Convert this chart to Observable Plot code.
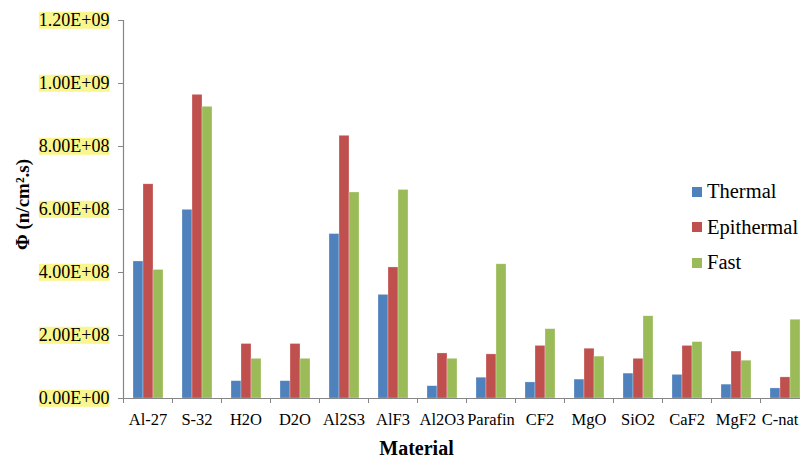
<!DOCTYPE html>
<html>
<head>
<meta charset="utf-8">
<script src="https://cdn.jsdelivr.net/npm/d3@7"></script>
<script src="https://cdn.jsdelivr.net/npm/@observablehq/plot@0.6"></script>
<style>
  html, body { margin: 0; padding: 0; background: white; overflow: hidden; }
  #wrap { position: relative; width: 800px; height: 461px; overflow: hidden; }
  #wrap svg text { font-family: "Liberation Serif", "Times New Roman", "DejaVu Serif", serif !important; font-variant: normal !important; }
  #legend { position: absolute; left: 692px; top: 174px; font-family: "Liberation Serif", "Times New Roman", "DejaVu Serif", serif; font-size: 20.5px; color: #000; }
  #legend .row { display: flex; align-items: center; height: 35.5px; white-space: nowrap; }
  #legend .sw { width: 10px; height: 10px; margin-right: 5px; }
</style>
</head>
<body>
<div id="wrap"></div>
<script>
const categories = ["Al-27","S-32","H2O","D2O","Al2S3","AlF3","Al2O3","Parafin","CF2","MgO","SiO2","CaF2","MgF2","C-nat"];
const series = ["Thermal","Epithermal","Fast"];
const thermal    = [4.35e8, 5.99e8, 0.55e8, 0.55e8, 5.22e8, 3.29e8, 0.39e8, 0.66e8, 0.51e8, 0.60e8, 0.79e8, 0.75e8, 0.44e8, 0.32e8];
const epithermal = [6.80e8, 9.64e8, 1.73e8, 1.73e8, 8.34e8, 4.16e8, 1.43e8, 1.40e8, 1.67e8, 1.58e8, 1.26e8, 1.67e8, 1.49e8, 0.67e8];
const fast       = [4.08e8, 9.26e8, 1.26e8, 1.26e8, 6.54e8, 6.62e8, 1.26e8, 4.26e8, 2.20e8, 1.33e8, 2.61e8, 1.79e8, 1.20e8, 2.50e8];
const yTicks = [0, 2e8, 4e8, 6e8, 8e8, 1e9, 1.2e9];
const colors = ["#4F81BD", "#C0504D", "#9BBB59"];
const xTitle = "Material";
const yTitle = "Φ (n/cm².s)";

const valuesBySeries = [thermal, epithermal, fast];
const rows = categories.flatMap((c, i) => series.map((s, j) => ({category: c, series: s, value: valuesBySeries[j][i]})));

function sci(d) {
  if (d === 0) return "0.00E+00";
  const e = Math.floor(Math.log10(d) + 1e-9);
  const m = d / Math.pow(10, e);
  return m.toFixed(2) + "E+" + String(e).padStart(2, "0");
}

const axisGray = "#868686";
const W = 809, H = 461, ML = 123, MR = 0;
const band = (W - ML - MR) / categories.length;
const serif = "Liberation Serif, Times New Roman, serif";

const plot = Plot.plot({
  width: W, height: H,
  marginLeft: ML, marginRight: MR, marginTop: 20, marginBottom: 63,
  style: {fontFamily: serif, maxWidth: "none", background: "white", overflow: "visible", color: "#000"},
  fx: {domain: categories, padding: 0, label: null},
  x: {domain: series, paddingInner: 0, paddingOuter: 0.76, axis: null},
  y: {domain: [0, 1.2e9]},
  color: {domain: series, range: colors},
  marks: [
    Plot.barY(rows, {fx: "category", x: "series", y: "value", fill: "series", stroke: "white", strokeOpacity: 0.45, strokeWidth: 0.6}),
    Plot.frame({anchor: "left", facet: "super", stroke: axisGray, strokeWidth: 1.2}),
    Plot.frame({anchor: "bottom", facet: "super", stroke: axisGray, strokeWidth: 1.2}),
    Plot.axisY(yTicks, {tickSize: 5, tickPadding: 9, tickFormat: sci, fontSize: 18, stroke: axisGray, fill: "#000", label: null}),
    Plot.axisFx({anchor: "bottom", tickSize: 0, tickPadding: 15, fontSize: 16.5, fill: "#000", label: null}),
    Plot.axisFx({anchor: "bottom", tickSize: 5, tickFormat: () => "", dx: -band / 2, stroke: axisGray, label: null}),
    Plot.text([xTitle], {facet: "super", frameAnchor: "bottom", textAnchor: "middle", lineAnchor: "middle", dx: -50, dy: 50, fontWeight: "bold", fontSize: 20, fill: "#000"}),
    Plot.text([yTitle], {facet: "super", frameAnchor: "left", textAnchor: "middle", lineAnchor: "middle", rotate: -90, dx: -101, dy: -5, fontWeight: "bold", fontSize: 19, fill: "#000"})
  ]
});

const wrap = document.getElementById("wrap");
wrap.append(plot);

// yellow highlight behind y tick labels
plot.querySelectorAll('g[aria-label="y-axis tick label"] text').forEach(t => {
  const b = t.getBBox();
  const r = document.createElementNS("http://www.w3.org/2000/svg", "rect");
  const h = 17;
  r.setAttribute("x", b.x);
  r.setAttribute("y", b.y + (b.height - h) / 2);
  r.setAttribute("width", b.width);
  r.setAttribute("height", h);
  r.setAttribute("fill", "#FAF58C");
  r.setAttribute("stroke", "none");
  const tr = t.getAttribute("transform");
  if (tr) r.setAttribute("transform", tr);
  t.parentNode.insertBefore(r, t);
});

// keep the last category label inside the picture, as in the original
plot.querySelectorAll('g[aria-label="fx-axis tick label"] text').forEach(t => {
  if (t.textContent === categories[categories.length - 1]) t.setAttribute("dx", "-5");
});

// legend
const legend = document.createElement("div");
legend.id = "legend";
series.forEach((s, i) => {
  const row = document.createElement("div");
  row.className = "row";
  const sw = document.createElement("span");
  sw.className = "sw";
  sw.style.background = colors[i];
  const lab = document.createElement("span");
  lab.textContent = s;
  row.append(sw, lab);
  legend.append(row);
});
wrap.append(legend);
</script>
</body>
</html>
